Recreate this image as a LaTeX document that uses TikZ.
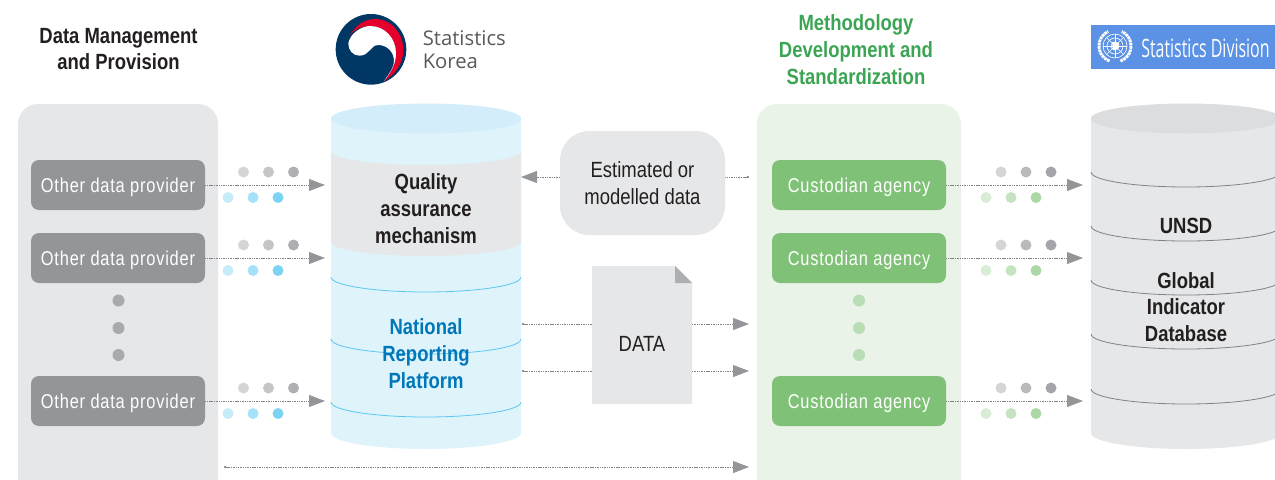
\documentclass[tikz,border=0pt]{standalone}
\usepackage{fontspec}
\usetikzlibrary{arrows.meta}
\setmainfont{Liberation Sans}
\newfontfamily\condfont[FakeStretch=0.84]{Liberation Sans}
\newfontfamily\spacedfont[FakeStretch=0.82,LetterSpace=4]{Liberation Sans}
\newfontfamily\logofont{Open Sans}
\newfontfamily\unfont[FakeStretch=0.63]{Open Sans}
\definecolor{panelgrey}{HTML}{E6E7E8}
\definecolor{boxgrey}{HTML}{939598}
\definecolor{panelgreen}{HTML}{E9F3E7}
\definecolor{boxgreen}{HTML}{7FC176}
\definecolor{cyllight}{HTML}{DFF3FB}
\definecolor{cyltop}{HTML}{D3EDFA}
\definecolor{cylline}{HTML}{5CC8F0}
\definecolor{unitop}{HTML}{DCDDDE}
\definecolor{uniline}{HTML}{808285}
\definecolor{headgreen}{HTML}{3BA554}
\definecolor{headblue}{HTML}{0077B9}
\definecolor{inkblack}{HTML}{231F20}
\definecolor{unblue}{HTML}{5B92E5}
\definecolor{krnavy}{HTML}{003764}
\definecolor{krred}{HTML}{E4002B}
\tikzset{
  headtext/.style={font=\condfont\bfseries\fontsize{16.5}{20}\selectfont,align=center,text=inkblack,inner sep=0pt},
  bodytext/.style={font=\condfont\fontsize{16.5}{20}\selectfont,align=center,text=inkblack,inner sep=0pt},
  providerbox/.style={fill=boxgrey,rounded corners=6pt,minimum width=130.5pt,minimum height=37.5pt,inner sep=0pt,text=white,text height=14pt,text depth=2.8pt,font=\spacedfont\fontsize{15}{17}\selectfont},
  custodianbox/.style={providerbox,fill=boxgreen},
  flowline/.style={draw=uniline,line width=0.6pt,dash pattern=on 0.8pt off 0.5pt,-{Triangle[length=12pt,width=9pt,color=boxgrey]}},
  flowdot/.style={flowline,{Circle[length=1.6pt,width=1.6pt,color=uniline]}-{Triangle[length=12pt,width=9pt,color=boxgrey]}}
}
\begin{document}
\begin{tikzpicture}[x=0.75pt,y=0.75pt,yscale=-1,xscale=1]
\clip (0,0) rectangle (1275,479);

%Shape: Panels
\fill [panelgrey] (18,510) [rounded corners=15pt] -- (18,104) -- (218,104) [sharp corners] -- (218,510) -- cycle ;
\fill [panelgreen] (757,510) [rounded corners=15pt] -- (757,104) -- (961,104) [sharp corners] -- (961,510) -- cycle ;

%Shape: Can national
\fill [cyllight] (331,118.5) -- (331,433) arc [x radius=95, y radius=16, start angle=180, end angle=0] -- (521,118.5) -- cycle ;
\fill [panelgrey] (331,151) arc [x radius=95, y radius=14, start angle=180, end angle=0] -- (521,242) arc [x radius=95, y radius=14, start angle=0, end angle=180] -- cycle ;
\fill [cyltop] (426,118.5) ellipse [x radius=95, y radius=15] ;
\foreach \ypos in {277,339,402}
  \draw [cylline, line width=0.6pt] (331,\ypos) arc [x radius=95, y radius=15, start angle=180, end angle=0] ;

%Shape: Can global
\fill [panelgrey] (1091,118.5) -- (1091,433) arc [x radius=95, y radius=16, start angle=180, end angle=0] -- (1281,118.5) -- cycle ;
\fill [unitop] (1186,118.5) ellipse [x radius=95, y radius=15] ;
\foreach \ypos in {172,226,280,334,389}
  \draw [uniline, line width=0.6pt] (1091,\ypos) arc [x radius=95, y radius=15, start angle=180, end angle=0] ;

%Logo Korea
\begin{scope}[shift={(320,0)},x=0.25pt,y=0.25pt]
\fill [krnavy] (153,148) circle [radius=106] ;
\fill [krred] (88,108) .. controls (110,70) and (140,57) .. (165,57) .. controls (215,57) and (250,100) .. (250,150) .. controls (250,190) and (225,225) .. (192,243) .. controls (215,215) and (228,190) .. (228,160) .. controls (228,115) and (190,78) .. (150,78) .. controls (125,78) and (100,90) .. (88,108) -- cycle ;
\fill [white] (85,130) .. controls (90,100) and (125,78) .. (150,78) .. controls (195,78) and (228,115) .. (228,160) .. controls (228,190) and (215,215) .. (192,243) .. controls (212,215) and (222,200) .. (222,183) .. controls (222,155) and (200,135) .. (175,135) .. controls (150,135) and (150,167) .. (118,167) .. controls (98,167) and (85,150) .. (85,130) -- cycle ;
\end{scope}
\node [font=\logofont\fontsize{15.2}{17.5}\selectfont, text=black!65, align=left, inner sep=0pt, anchor=west] (korealabel) at (422.5,49.5) {Statistics\\Korea};

%Logo UN
\fill [unblue] (1091,25) rectangle (1275,69) ;
\draw [white, line width=0.5pt] (1115,46) circle [radius=4] (1115,46) circle [radius=8] (1115,46) circle [radius=12] ;
\foreach \ang in {0,45,...,315}
  \draw [white, line width=0.4pt] (1115,46) -- ++(\ang:12) ;
\fill [white] (1112,42) -- (1119,43) -- (1118,49) -- (1113,50) -- cycle ;
\draw [white, line width=2.2pt, dash pattern=on 2pt off 0.5pt] (1115,46) ++(110:16) arc [radius=16, start angle=110, end angle=245] ;
\draw [white, line width=2.2pt, dash pattern=on 2pt off 0.5pt] (1115,46) ++(70:16) arc [radius=16, start angle=70, end angle=-65] ;
\node [font=\unfont\fontsize{19}{20}\selectfont, text=white, inner sep=0pt, anchor=west] (unlabel) at (1141,48) {Statistics Division};

% Text Node
\node [headtext] (mgmthead) at (118.5,49) {Data Management\\and Provision};
\node [headtext, text=headgreen] (methodhead) at (856,49.5) {Methodology\\Development and\\Standardization};
\node [headtext] (quality) at (426,208.5) {Quality\\assurance\\mechanism};
\node [headtext, text=headblue] (national) at (426,353.5) {National\\Reporting\\Platform};
\node [headtext] (unsd) at (1186,226) {UNSD};
\node [headtext] (globaldb) at (1186,307) {Global\\Indicator\\Database};

%Boxes
\foreach \row/\ypos in {1/185,2/258,3/401} {
  \node [providerbox] (provider\row) at (118,\ypos) {Other data provider};
  \node [custodianbox] (custodian\row) at (859,\ypos) {Custodian agency};
  \coordinate (qaend\row) at (325,\ypos);
  \coordinate (unsdend\row) at (1083,\ypos);
  \draw [flowline] (provider\row) -- (qaend\row);
  \draw [flowline] (custodian\row) -- (unsdend\row);
  % dots over and under the lines
  \foreach \xpos/\shade in {243.5/40,268.5/55,293.5/75}
    \fill [boxgrey!\shade!white] (\xpos,\ypos-13) circle [radius=5.5];
  \foreach \xpos/\shade in {228/35,253/55,278/80}
    \fill [cylline!\shade!white] (\xpos,\ypos+12.5) circle [radius=5.5];
  \foreach \xpos/\shade in {1001/40,1026/65,1051/85}
    \fill [boxgrey!\shade!white] (\xpos,\ypos-13) circle [radius=5.5];
  \foreach \xpos/\shade in {986/30,1011/45,1036/65}
    \fill [boxgreen!\shade!white] (\xpos,\ypos+12.5) circle [radius=5.5];
}
\foreach \ypos in {300.5,328,355} {
  \fill [boxgrey!80!white] (118.5,\ypos) circle [radius=6];
  \fill [boxgreen!55!white] (859,\ypos) circle [radius=6];
}

%Straight Lines
\coordinate (qaside) at (521,177);
\coordinate (estfrom) at (749,177);
\coordinate (natside1) at (522,324);
\coordinate (natside2) at (522,371);
\coordinate (custside1) at (749,324);
\coordinate (custside2) at (749,371);
\coordinate (bottomfrom) at (224,467);
\coordinate (bottomto) at (749,467);
\draw [flowdot] (estfrom) -- (qaside);
\draw [flowdot] (natside1) -- (custside1);
\draw [flowdot] (natside2) -- (custside2);
\draw [flowdot] (bottomfrom) -- (bottomto);

%Shape: Rectangle
\node [bodytext, fill=panelgrey, rounded corners=22pt, minimum width=123.75pt, minimum height=78pt] (estimated) at (642.5,183) {Estimated or\\modelled data};
\fill [panelgrey] (592,266) -- (675,266) -- (692,283) -- (692,404) -- (592,404) -- cycle ;
\fill [boxgrey!75!white] (675,266) -- (692,283) -- (675,283) -- cycle ;
\node [bodytext] (datalabel) at (642,344) {DATA};
\end{tikzpicture}
\end{document}
